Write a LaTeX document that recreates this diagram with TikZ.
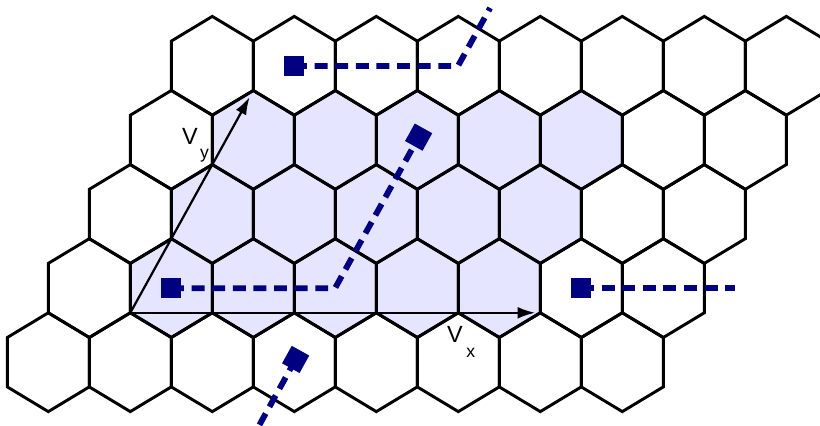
\documentclass[tikz,border=0pt]{standalone}
\usepackage{fontspec}
\setmainfont{Liberation Sans}
\usepackage{tikz}
\usetikzlibrary{arrows.meta,calc}

\definecolor{chainblue}{RGB}{0,0,128}
\definecolor{cellshade}{RGB}{229,229,255}

\begin{document}
\begin{tikzpicture}[x=0.03cm,y=0.03cm,
  hexcell/.style={draw=black, line width=2.5pt},
  shadecell/.style={fill=cellshade},
  chainline/.style={draw=chainblue, line width=5pt, dash pattern=on 11pt off 6.6pt},
  beadsq/.style={fill=chainblue, minimum size=0.6cm, inner sep=0pt, outer sep=0pt},
  latvec/.style={draw=black, line width=1.9pt, -{Latex[length=15pt,width=10pt]}},
  veclbl/.style={anchor=base west, inner sep=0pt, font=\fontsize{20}{23}\selectfont}]
\useasboundingbox (0,0) rectangle (820,426);
\clip (0,0) rectangle (820,426);

% Zellen der Einheitszelle (3 Reihen x 5 Waben)
\foreach \j in {1,2,3} {
  \foreach \i in {1,...,5} {
    \pgfmathsetmacro{\cx}{48.3+82*\i+41*\j}
    \pgfmathsetmacro{\cy}{63.8+74.1*\j}
    \fill[shadecell, shift={(\cx,\cy)}] (0,49.4) -- (41,24.7) -- (41,-24.7) -- (0,-49.4) -- (-41,-24.7) -- (-41,24.7) -- cycle;
  }
}

% Wabengitter: 5 Reihen zu je 8 Waben
\foreach \j in {0,...,4} {
  \foreach \i in {0,...,7} {
    \pgfmathsetmacro{\cx}{48.3+82*\i+41*\j}
    \pgfmathsetmacro{\cy}{63.8+74.1*\j}
    \draw[hexcell, shift={(\cx,\cy)}] (0,49.4) -- (41,24.7) -- (41,-24.7) -- (0,-49.4) -- (-41,-24.7) -- (-41,24.7) -- cycle;
  }
}

% Gittervektoren
\coordinate (O) at (130.3,113.2);
\coordinate (vx) at (410,0);
\coordinate (vy) at (123,222.3);
\coordinate (Ox) at ($(O)+(vx)$);
\coordinate (Oy) at ($(O)+(vy)$);
\draw[latvec, shorten >=4.3pt] (O) -- (Ox);
\draw[latvec, shorten >=6.5pt] (O) -- (Oy);
\node[veclbl] (lbly) at (182,281) {V\hspace{2pt}\raisebox{-11.5pt}{\fontsize{15}{17}\selectfont y}};
\node[veclbl] (lblx) at (447,83) {V\hspace{3pt}\raisebox{-12pt}{\fontsize{15}{17}\selectfont x}};

% Kette in der Zelle und ihre periodischen Bilder
\coordinate (S) at (171,137.7);
\coordinate (B) at (335,137.7);
\coordinate (T) at ($(B)+0.68*(vy)$);
\coordinate (S2) at ($(S)+(vy)$);
\coordinate (B2) at ($(B)+(vy)$);
\coordinate (E2) at ($(B2)+0.261*(vy)$);
\coordinate (S3) at ($(S)+(vx)$);
\coordinate (E3) at (735,137.7);
\coordinate (T4) at ($(T)-(vy)$);
\coordinate (E4) at ($(B)-(vy)$);

\draw[chainline] (S) -- (B) -- (T);
\draw[chainline] (S2) -- (B2) -- (E2);
\draw[chainline] (S3) -- (E3);
\draw[chainline] (T4) -- (E4);

\node[beadsq] (bead1) at (S) {};
\node[beadsq, rotate=61] (bead2) at (T) {};
\node[beadsq] (bead3) at (S2) {};
\node[beadsq] (bead4) at (S3) {};
\node[beadsq, rotate=61] (bead5) at (T4) {};
\end{tikzpicture}
\end{document}
